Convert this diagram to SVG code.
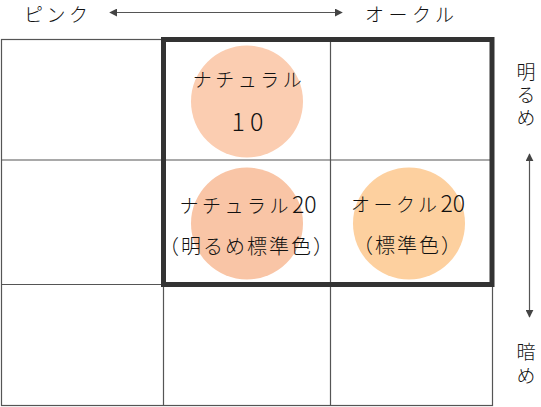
<svg xmlns="http://www.w3.org/2000/svg" width="541" height="407" viewBox="0 0 541 407">
<defs>
<marker id="ah" viewBox="0 0 10 10" refX="9" refY="5" markerWidth="8" markerHeight="8" markerUnits="userSpaceOnUse" orient="auto-start-reverse">
<path d="M0,0 L10,5 L0,10 z" fill="#444"/>
</marker>
<style>
.t{font-family:"Noto Sans CJK JP","Noto Sans",sans-serif;fill:#111;font-weight:300}
.v{writing-mode:vertical-rl}
.grid{stroke:#555;stroke-width:1.2;fill:none}
.conn{stroke:#555;stroke-width:1.2;fill:none}
</style>
</defs>
<rect width="541" height="407" fill="#fff"/>
<g id="grid">
<rect class="grid" x="1.5" y="39.5" width="491" height="366"/>
<line class="grid" x1="163.5" y1="39.5" x2="163.5" y2="405.5"/>
<line class="grid" x1="330.5" y1="39.5" x2="330.5" y2="405.5"/>
<line class="grid" x1="1.5" y1="160" x2="492.5" y2="160"/>
<line class="grid" x1="1.5" y1="284.5" x2="492.5" y2="284.5"/>
</g>
<g id="natural10">
<circle cx="247" cy="101.5" r="56" fill="#FBCDB1"/>
<text class="t" x="249" y="87" font-size="19" letter-spacing="3.5" text-anchor="middle">ナチュラル</text>
<text class="t" x="250" y="131" font-size="25" letter-spacing="5" text-anchor="middle">10</text>
</g>
<g id="natural20">
<circle cx="247" cy="223.5" r="56" fill="#F9C5A6"/>
<text class="t" x="248" y="213" font-size="19" letter-spacing="3.5" text-anchor="middle">ナチュラル<tspan font-size="23" letter-spacing="0">20</tspan></text>
<text class="t" x="247" y="254" font-size="20" letter-spacing="2" text-anchor="middle">（明るめ標準色）</text>
</g>
<g id="ochre20">
<circle cx="409" cy="223.5" r="56" fill="#FDD09F"/>
<text class="t" x="408" y="212" font-size="19" letter-spacing="3.5" text-anchor="middle">オークル<tspan font-size="23" letter-spacing="0">20</tspan></text>
<text class="t" x="408" y="253" font-size="20" letter-spacing="2" text-anchor="middle">（標準色）</text>
</g>
<g id="frame">
<rect x="163.5" y="39.5" width="328.5" height="245" fill="none" stroke="#333" stroke-width="5"/>
</g>
<g id="connectors">
<line class="conn" x1="110" y1="12.5" x2="342" y2="12.5" marker-start="url(#ah)" marker-end="url(#ah)"/>
<line class="conn" x1="529.5" y1="154" x2="529.5" y2="317" marker-start="url(#ah)" marker-end="url(#ah)"/>
</g>
<g id="labels">
<text class="t" x="24" y="22" font-size="19" letter-spacing="3.5">ピンク</text>
<text class="t" x="365" y="22" font-size="19" letter-spacing="4.5">オークル</text>
<text class="t v" x="526" y="62" font-size="19" letter-spacing="4">明るめ</text>
<text class="t v" x="526" y="342" font-size="19" letter-spacing="5">暗め</text>
</g>
</svg>
